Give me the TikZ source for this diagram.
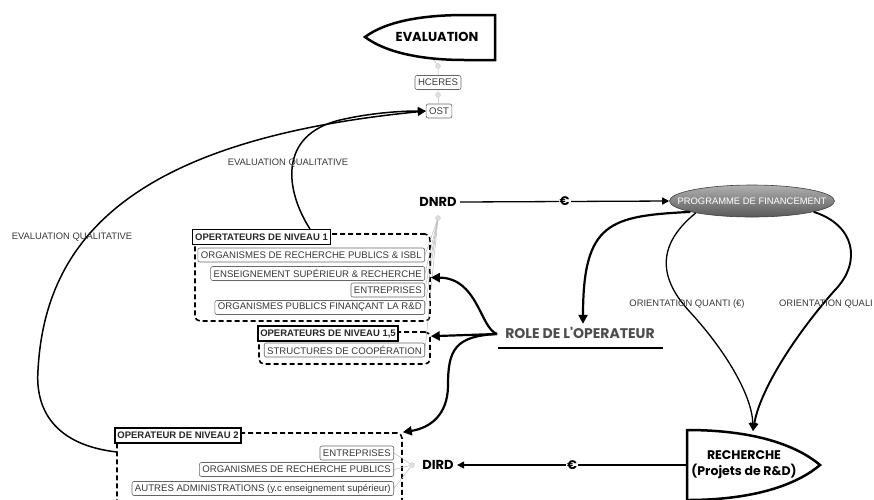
\documentclass[tikz,border=0pt]{standalone}
\usepackage{fontspec}
\setmainfont{Liberation Sans}
\newfontfamily\popfont{Poppins}
\usetikzlibrary{arrows.meta,shapes.geometric,calc}
\begin{document}
\begin{tikzpicture}[x=1pt,y=-1pt,
  item/.style={draw=black!60, line width=0.6pt, rounded corners=2pt, font=\fontsize{9.6}{10}\selectfont, text=black!78, inner xsep=3pt, inner ysep=0pt, minimum height=14pt, anchor=east},
  ttl/.style={draw=black, line width=1.6pt, font=\bfseries\fontsize{9.5}{10}\selectfont, text=black!85, inner xsep=2.5pt, inner ysep=0pt, minimum height=15pt, fill=white},
  grp/.style={draw=black, line width=1.6pt, dash pattern=on 5pt off 3pt, rounded corners=5pt, inner sep=0pt},
  big/.style={font=\popfont\bfseries\fontsize{13}{15}\selectfont},
  lbl/.style={font=\fontsize{9.4}{10}\selectfont, text=black!78},
  thk/.style={line width=2.2pt, -{Triangle[length=9pt,width=9pt]}},
  thinarr/.style={line width=1.3pt, -{Triangle[length=7pt,width=7pt]}},
  dotn/.style={circle, fill=gray!25, draw=gray!40, inner sep=0pt, minimum size=5pt},
  link/.style={draw=gray!55, line width=0.5pt},
  euro/.style={fill=white, inner sep=1pt, font=\popfont\bfseries\fontsize{12.5}{13}\selectfont}]
\useasboundingbox (0,0) rectangle (874,499);

% EVALUATION
\node[big] (eval) at (437,37) {EVALUATION};
\draw[line width=2.5pt] (495,15) -- (495,60) -- (465,60) .. controls (420,60) and (385,52) .. (365,37) .. controls (385,22) and (420,15) .. (465,15) -- cycle;
\coordinate (evb) at (434,60);
\node[dotn] (d1) at (438,66) {};
\node[item, anchor=center] (hc) at (438,82.5) {HCERES};
\node[dotn] (d2) at (438,95) {};
\node[item, anchor=center] (ost) at (439,111) {OST};
\draw[link] (evb) -- (d1) -- (hc) -- (d2) -- (ost);

% Groups
\node[grp, minimum width=235pt, minimum height=87pt] (g1) at (312.5,277.5) {};
\node[ttl] (t1) at (261.5,237) {OPERTATEURS DE NIVEAU 1};
\node[item] (i11) at (425,255) {ORGANISMES DE RECHERCHE PUBLICS \& ISBL};
\node[item] (i12) at (425,273.5) {ENSEIGNEMENT SUPÉRIEUR \& RECHERCHE};
\node[item] (i13) at (425,290) {ENTREPRISES};
\node[item] (i14) at (425,307.5) {ORGANISMES PUBLICS FINANÇANT LA R\&D};

\node[grp, minimum width=171pt, minimum height=32pt] (g15) at (344.5,348) {};
\node[ttl] (t15) at (328,333.5) {OPERATEURS DE NIVEAU 1,5};
\node[item] (i15) at (425,350) {STRUCTURES DE COOPÉRATION};

\node[grp, minimum width=285pt, minimum height=80pt] (g2) at (259.5,473) {};
\node[ttl] (t2) at (178,435.5) {OPERATEUR DE NIVEAU 2};
\node[item] (i21) at (394,453) {ENTREPRISES};
\node[item] (i22) at (394,469.5) {ORGANISMES DE RECHERCHE PUBLICS};
\node[item] (i23) at (394,488.5) {AUTRES ADMINISTRATIONS (y.c enseignement supérieur)};

% DNRD
\node[big] (dnrd) at (438,202) {DNRD};
\node[dotn] (dd) at (438,218) {};
\foreach \n in {i11,i12,i13,i14,i15} \draw[link] (dd) -- (\n.east);

% Programme
\node[ellipse, minimum width=165pt, minimum height=32pt, inner sep=0pt, top color=gray!62, bottom color=gray!70!black, draw=gray!50!black, line width=0.6pt] (prog) at (752,201) {};
\node[text=white, font=\fontsize{9.4}{10}\selectfont] (progt) at (prog.center) {PROGRAMME DE FINANCEMENT};
\draw[thinarr] (dnrd.east) -- node[euro] {€} (prog.west);

% ROLE
\node[font=\popfont\bfseries\fontsize{14}{15}\selectfont, text=black!70] (role) at (580,333) {ROLE DE L\textquotesingle OPERATEUR};
\coordinate (ul1) at (498,348);
\coordinate (ul2) at (663,348);
\draw[line width=1.5pt] (ul1) -- (ul2);
\coordinate (rl) at (497,334);
\draw[thk] (prog.190) .. controls (610,216) and (583,222) .. ([xshift=3pt]role.north);
\draw[thk] (rl) .. controls (480,328) and (478,278) .. (g1.east);
\draw[thk] (rl) -- ([yshift=-5pt]g15.north east);
\draw[thk] (rl) .. controls (455,336) and (448,350) .. (448,385) .. controls (448,415) and (430,428) .. (g2.north east);

% RECHERCHE
\node[font=\popfont\bfseries\fontsize{12.5}{16}\selectfont, align=center] (rech) at (744,465) {RECHERCHE\\(Projets de R\&D)};
\draw[line width=2.5pt] (687,500) -- (687,430) .. controls (760,430) and (800,448) .. (820,465) .. controls (800,482) and (760,500) .. (687,500) -- cycle;
\coordinate (rt) at (753,431);
\coordinate (rw) at (687,465);
\draw[line width=1.3pt, -{Triangle[length=8pt,width=8pt]}] (prog.192) .. controls (650,250) and (665,285) .. (690,312) .. controls (725,350) and (752,395) .. (rt);
\draw[line width=1.9pt, -{Triangle[length=8pt,width=8pt]}] (prog.350) .. controls (855,225) and (862,262) .. (835,290) .. controls (795,335) and (760,390) .. (rt);
\node[lbl] (oq) at (687,304) {ORIENTATION QUANTI (€)};
\node[lbl] (oql) at (826,304) {ORIENTATION QUALI};

% DIRD
\node[big] (dird) at (438,465) {DIRD};
\draw[thinarr] (rw) -- node[euro] {€} (dird.east);
\node[dotn] (dr) at (412,465) {};
\foreach \n in {i21,i22,i23} \draw[link] (dr) -- (\n.east);

% Evaluation qualitative arrows
\draw[line width=1.5pt, -{Triangle[length=8pt,width=8pt]}] (310,229) .. controls (285,190) and (278,135) .. (340,120) .. controls (370,113) and (400,111) .. (ost.west);
\draw[line width=1.5pt, -{Triangle[length=8pt,width=8pt]}] (117,452) .. controls (55,445) and (35,410) .. (38,370) .. controls (45,240) and (130,140) .. (ost.west);
\node[lbl] (eq1) at (288,163) {EVALUATION QUALITATIVE};
\node[lbl] (eq2) at (72,237) {EVALUATION QUALITATIVE};
\end{tikzpicture}
\end{document}
